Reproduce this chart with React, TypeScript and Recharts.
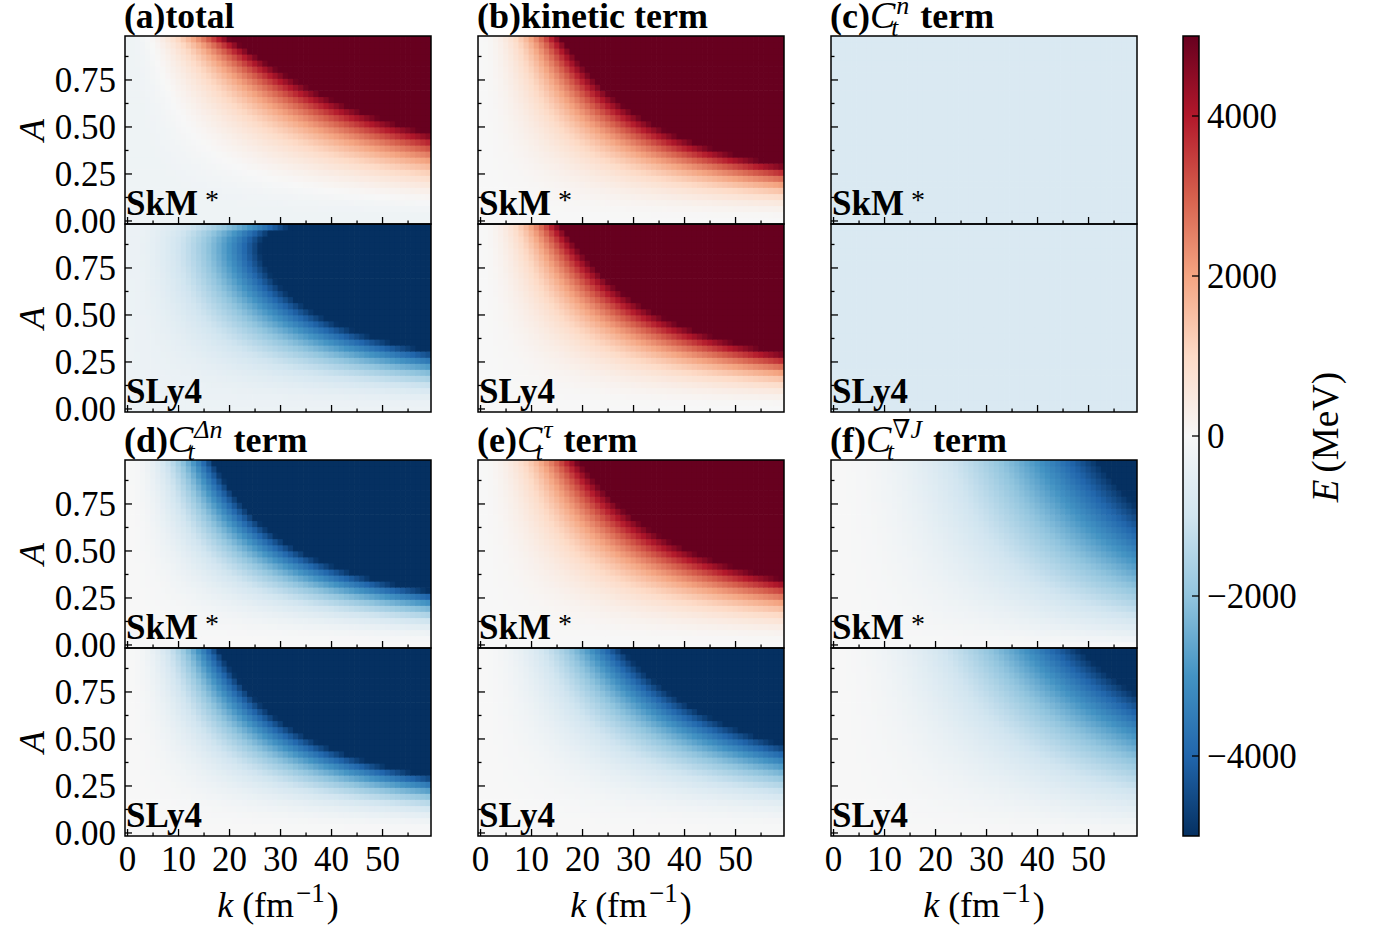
import React, { useMemo } from 'react';
import { ScatterChart, Scatter, XAxis, YAxis, ComposedChart, ReferenceArea } from 'recharts';

const FONT = "'Liberation Serif', 'DejaVu Serif', 'Times New Roman', serif";

// ---- grid categories (k in fm^-1, amplitude A) ----
const kValues = [0, 1, 2, 3, 4, 5, 6, 7, 8, 9, 10, 11, 12, 13, 14, 15, 16, 17, 18, 19,
  20, 21, 22, 23, 24, 25, 26, 27, 28, 29, 30, 31, 32, 33, 34, 35, 36, 37, 38, 39,
  40, 41, 42, 43, 44, 45, 46, 47, 48, 49, 50, 51, 52, 53, 54, 55, 56, 57, 58, 59];
const aValues = [0.000, 0.032, 0.065, 0.097, 0.129, 0.161, 0.194, 0.226, 0.258, 0.290,
  0.323, 0.355, 0.387, 0.419, 0.452, 0.484, 0.516, 0.548, 0.581, 0.613,
  0.645, 0.677, 0.710, 0.742, 0.774, 0.806, 0.839, 0.871, 0.903, 0.935, 0.968];

// ---- sub-panels: (a..f) x (SkM*, SLy4) ----
const panelLetters = ['a', 'b', 'c', 'd', 'e', 'f'];
const forceNames = ['SkM', 'SLy4'];
// values (MeV); energy = offset + shape(A) * (k/10)^2
const offsetMeV = [-250, -300, 0, 0, -760, -760, 0, 0, 0, 0, 0, 0];
const quadCoef = [-700, -3010, 650, 650, 0, 0, -1520, -1350, 700, -573, 0, -120];
const weizCoef = [2600, 3140, 1840, 1840, 0, 0, -400, -360, 885, -130, 0, 0];
const linCoef = [0, 0, 0, 0, 0, 0, 0, 0, 0, 0, -190, -102];

const xTicks = [0, 5, 10, 15, 20, 25, 30, 35, 40, 45, 50, 55];
const yTicks = [0, 0.125, 0.25, 0.375, 0.5, 0.625, 0.75, 0.875];
const cbTicks = [-4000, -2000, 0, 2000, 4000];

// RdBu_r colormap stops
const rdbuR = ['#053061', '#2166ac', '#4393c3', '#92c5de', '#d1e5f0', '#f7f7f7',
  '#fddbc7', '#f4a582', '#d6604d', '#b2182b', '#67001f'];
const V_MIN = -5000;
const V_MAX = 5000;

const hexToRgb = (h: string) => [parseInt(h.slice(1, 3), 16), parseInt(h.slice(3, 5), 16), parseInt(h.slice(5, 7), 16)];
const stopRgb = rdbuR.map(hexToRgb);
function colorFor(e: number) {
  let t = (e - V_MIN) / (V_MAX - V_MIN);
  t = Math.max(0, Math.min(1, t));
  const p = t * 10;
  const i = Math.min(9, Math.floor(p));
  const f = p - i;
  const c0 = stopRgb[i];
  const c1 = stopRgb[i + 1];
  const c = c0.map((v, j) => Math.round(v + (c1[j] - v) * f));
  return `rgb(${c[0]},${c[1]},${c[2]})`;
}

function buildCells(idx: number) {
  const out: { k: number; a: number; e: number }[] = [];
  for (const a of aValues) {
    const shape = quadCoef[idx] * a * a + weizCoef[idx] * (1 - Math.sqrt(1 - a * a)) + linCoef[idx] * a;
    for (const k of kValues) {
      out.push({ k, a, e: offsetMeV[idx] + shape * (k / 10) * (k / 10) });
    }
  }
  return out;
}

// ---- layout ----
const colX = [125, 478, 831];
const rowY = [36, 224, 460, 648];
const PW = 306;
const PH = 188;
const ML = 112;
const MR = 10;
const MT = 10;
const MB = 62;
const X_DOMAIN: [number, number] = [-0.5, 59.5];
const Y_DOMAIN: [number, number] = [-0.5 / 31, 30.5 / 31];

const XTick = (props: any) => {
  const { x, y, payload, showLabel } = props;
  const v = payload.value;
  const major = Math.abs(v % 10) < 1e-9;
  return (
    <g>
      <line x1={x} x2={x} y1={y} y2={y - (major ? 7 : 3.5)} stroke="#000" strokeWidth={1.3} />
      {showLabel && major && (
        <text x={x} y={y + 35} textAnchor="middle" fontSize={35} fontFamily={FONT} fill="#000">{v}</text>
      )}
    </g>
  );
};

const YTick = (props: any) => {
  const { x, y, payload, showLabel } = props;
  const v = payload.value;
  const major = Math.abs((v / 0.25) - Math.round(v / 0.25)) < 1e-6;
  return (
    <g>
      <line x1={x} x2={x + (major ? 7 : 3.5)} y1={y} y2={y} stroke="#000" strokeWidth={1.3} />
      {showLabel && major && (
        <text x={x - 9} y={y + 12} textAnchor="end" fontSize={35} fontFamily={FONT} fill="#000">{v.toFixed(2)}</text>
      )}
    </g>
  );
};

const CbTick = (props: any) => {
  const { x, y, payload } = props;
  const v = payload.value;
  const label = v < 0 ? `\u2212${Math.abs(v)}` : `${v}`;
  return (
    <g>
      <line x1={x} x2={x - 7} y1={y} y2={y} stroke="#000" strokeWidth={1.3} />
      <text x={x + 8} y={y + 12} textAnchor="start" fontSize={35} fontFamily={FONT} fill="#000">{label}</text>
    </g>
  );
};

function HeatPanel({ idx, col, row }: { idx: number; col: number; row: number }) {
  const cells = useMemo(() => buildCells(idx), [idx]);
  const px = colX[col];
  const py = rowY[row];
  const cw = PW / kValues.length;
  const ch = PH / aValues.length;
  const showX = row === 3;
  const showY = col === 0;
  const W = PW + ML + MR;
  const H = PH + MT + MB;
  return (
    <div style={{ position: 'absolute', left: px - ML, top: py - MT, width: W, height: H }}>
      <ScatterChart width={W} height={H} margin={{ top: MT, right: MR, bottom: MB - 1, left: ML - 1 }}>
        <XAxis type="number" dataKey="k" domain={X_DOMAIN} ticks={xTicks} interval={0} allowDataOverflow
          height={1} tickSize={0} tickMargin={0} axisLine={false} tickLine={false}
          tick={(p: any) => <XTick {...p} showLabel={showX} />} />
        <YAxis type="number" dataKey="a" domain={Y_DOMAIN} ticks={yTicks} interval={0} allowDataOverflow
          width={1} tickSize={0} tickMargin={0} axisLine={false} tickLine={false}
          tick={(p: any) => <YTick {...p} showLabel={showY} />} />
        <Scatter data={cells} isAnimationActive={false}
          shape={(p: any) => (
            <rect x={p.cx - cw / 2 - 0.35} y={p.cy - ch / 2 - 0.35} width={cw + 0.7} height={ch + 0.7}
              fill={colorFor(p.payload.e)} stroke="none" />
          )} />
      </ScatterChart>
    </div>
  );
}

function ColorBar() {
  const CBX = 1183;
  const CBW = 16;
  const W = CBW + 10 + 130;
  const H = 800 + 20;
  return (
    <div style={{ position: 'absolute', left: CBX - 10, top: 36 - 10, width: W, height: H }}>
      <ComposedChart width={W} height={H} margin={{ top: 10, bottom: 10, left: 10, right: 129 }} data={[{ x: 0, y: 0 }]}>
        <XAxis type="number" dataKey="x" domain={[0, 1]} hide allowDataOverflow />
        <YAxis type="number" dataKey="y" orientation="right" domain={[V_MIN, V_MAX]} ticks={cbTicks} interval={0}
          allowDataOverflow width={1} tickSize={0} tickMargin={0} axisLine={false} tickLine={false} tick={CbTick} />
        <ReferenceArea x1={0} x2={1} y1={V_MIN} y2={V_MAX} fill="url(#cbGrad)" fillOpacity={1} stroke="none" ifOverflow="visible" />
      </ComposedChart>
    </div>
  );
}

function MathTitle({ x, y, label, sup, supW }: { x: number; y: number; label: string; sup: string; supW: number }) {
  return (
    <text x={x} y={y} fontSize={36} fontFamily={FONT} fill="#000">
      <tspan fontWeight="bold">{label}</tspan>
      <tspan fontStyle="italic" fontSize={38}>C</tspan>
      <tspan fontStyle="italic" fontSize={26} dx={1} dy={-14}>{sup}</tspan>
      <tspan fontStyle="italic" fontSize={25} dx={-supW - 5} dy={22}>t</tspan>
      <tspan fontWeight="bold" dx={Math.max(0, supW - 4) + 4} dy={-8}>{' term'}</tspan>
    </text>
  );
}

function Overlay() {
  const rowCenters = rowY.map((y) => y + PH / 2);
  return (
    <svg width={1379} height={933} style={{ position: 'absolute', left: 0, top: 0, pointerEvents: 'none' }}>
      <defs>
        <linearGradient id="cbGrad" x1="0" y1="1" x2="0" y2="0">
          {rdbuR.map((c, i) => <stop key={i} offset={i / 10} stopColor={c} />)}
        </linearGradient>
      </defs>
      {/* frames */}
      {colX.map((x) => rowY.map((y) => (
        <rect key={`${x}-${y}`} x={x} y={y} width={PW} height={PH} fill="none" stroke="#000" strokeWidth={1.5} />
      )))}
      <rect x={1183} y={36} width={16} height={800} fill="none" stroke="#000" strokeWidth={1.5} />
      {/* titles */}
      <text x={124} y={28} fontSize={35.5} fontFamily={FONT} fontWeight="bold">(a)total</text>
      <text x={477} y={28} fontSize={36} fontFamily={FONT} fontWeight="bold">(b)kinetic term</text>
      <MathTitle x={830} y={28} label="(c)" sup="n" supW={13} />
      <MathTitle x={124} y={452} label="(d)" sup={'\u0394n'} supW={30} />
      <MathTitle x={477} y={452} label="(e)" sup={'\u03c4'} supW={12} />
      <MathTitle x={830} y={452} label="(f)" sup={'\u2207J'} supW={30} />
      {/* force labels */}
      {colX.map((x) => rowY.map((y, r) => (
        r % 2 === 0 ? (
          <text key={`f${x}-${y}`} x={x + 1} y={y + PH - 9} fontSize={35} fontFamily={FONT} fontWeight="bold">
            {forceNames[0]}
            <tspan fontWeight="normal" fontSize={28} dx={7} dy={-6}>*</tspan>
          </text>
        ) : (
          <text key={`f${x}-${y}`} x={x + 1} y={y + PH - 9} fontSize={35} fontFamily={FONT} fontWeight="bold">
            {forceNames[1]}
          </text>
        )
      )))}
      {/* y labels */}
      {rowCenters.map((cy, i) => (
        <text key={`A${i}`} x={44} y={cy} transform={`rotate(-90 44 ${cy})`} textAnchor="middle"
          fontSize={36} fontFamily={FONT} fontStyle="italic">A</text>
      ))}
      {/* x labels */}
      {colX.map((x, i) => (
        <text key={`k${i}`} x={x + PW / 2} y={917} textAnchor="middle" fontSize={36} fontFamily={FONT}>
          <tspan fontStyle="italic">k</tspan>
          <tspan dx={9}>(fm</tspan>
          <tspan fontSize={27} dx={2} dy={-15}>{'\u22121'}</tspan>
          <tspan dx={2} dy={15}>)</tspan>
        </text>
      ))}
      {/* colorbar label */}
      <text x={1338} y={437} transform="rotate(-90 1338 437)" textAnchor="middle" fontSize={37} fontFamily={FONT}>
        <tspan fontStyle="italic">E</tspan>
        <tspan dx={7}>(MeV)</tspan>
      </text>
    </svg>
  );
}

export default function App() {
  const panels: { idx: number; col: number; row: number }[] = [];
  panelLetters.forEach((_, p) => {
    const col = p % 3;
    const rowBase = p < 3 ? 0 : 2;
    forceNames.forEach((_, f) => {
      panels.push({ idx: p * 2 + f, col, row: rowBase + f });
    });
  });
  return (
    <div style={{ position: 'absolute', left: 0, top: 0, width: 1379, height: 933, background: '#fff', fontFamily: FONT }}>
      {panels.map((p) => <HeatPanel key={p.idx} {...p} />)}
      <ColorBar />
      <Overlay />
    </div>
  );
}
